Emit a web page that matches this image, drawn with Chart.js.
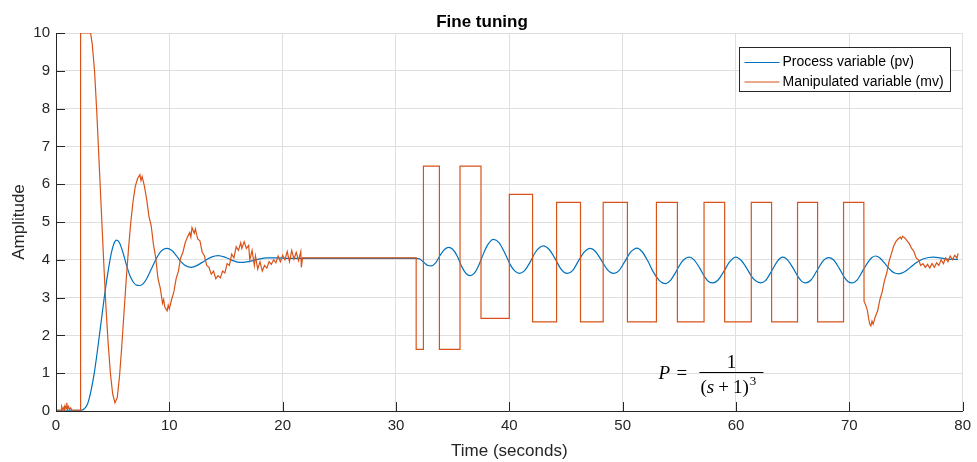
<!DOCTYPE html>
<html>
<head>
<meta charset="utf-8">
<title>Fine tuning</title>
<script src="https://cdn.jsdelivr.net/npm/chart.js@4/dist/chart.umd.min.js"></script>
<style>
  html, body { margin: 0; padding: 0; background: #fff; }
  canvas { display: block; }
</style>
</head>
<body>
<canvas id="myChart" width="977" height="462"></canvas>
<script>
// process variable (pv)
const pvTime = [0, 2.2, 2.5, 2.8, 3.1, 3.4, 3.7, 4.0, 4.3, 4.6, 4.9, 5.1, 5.35, 5.6, 5.9, 6.2, 6.5, 6.8, 7.1, 7.4,
  7.7, 8.0, 8.4, 8.8, 9.2, 9.5, 9.8, 10.2, 10.6, 11.0, 11.4, 11.95, 12.5, 13.1, 13.7, 14.3, 14.9, 15.5, 16.0, 16.5,
  17.1, 17.8, 18.6, 19.5, 20.5, 25, 31.8, 32.1, 32.5, 32.8, 33.1, 33.5, 33.9, 34.3, 34.65, 35.0, 35.4, 35.8, 36.2, 36.53,
  36.9, 37.3, 37.7, 38.1, 38.6, 39.1, 39.6, 40.1, 40.5, 40.88, 41.3, 41.8, 42.3, 42.7, 43.0, 43.5, 44.0, 44.5, 44.8, 45.14,
  45.6, 46.1, 46.6, 46.9, 47.14, 47.6, 48.1, 48.6, 48.9, 49.25, 49.7, 50.2, 50.7, 51.0, 51.25, 51.7, 52.2, 52.7, 53.2, 53.5,
  53.8, 54.2, 54.7, 55.2, 55.5, 55.86, 56.3, 56.8, 57.3, 57.6, 57.97, 58.4, 58.9, 59.4, 59.7, 59.97, 60.4, 60.9, 61.4, 61.8,
  62.17, 62.6, 63.1, 63.6, 63.9, 64.14, 64.5, 65.0, 65.5, 65.8, 66.14, 66.6, 67.1, 67.6, 67.9, 68.2, 68.6, 69.1, 69.6, 69.9,
  70.25, 70.7, 71.2, 71.7, 72.0, 72.3, 72.7, 73.2, 73.7, 74.0, 74.36, 74.8, 75.3, 75.9, 76.5, 77.0, 77.4, 78.0, 78.6, 79.2, 79.6];
const pvValue = [0.02, 0.02, 0.06, 0.2, 0.55, 1.05, 1.7, 2.4, 3.1, 3.7, 4.2, 4.42, 4.52, 4.45, 4.2, 3.88, 3.6, 3.42, 3.33, 3.32,
  3.37, 3.5, 3.75, 4.0, 4.2, 4.28, 4.3, 4.25, 4.12, 3.96, 3.85, 3.8, 3.86, 3.97, 4.07, 4.11, 4.07, 3.99, 3.94, 3.93,
  3.96, 4.01, 4.05, 4.05, 4.04, 4.04, 4.04, 4.02, 3.92, 3.85, 3.84, 3.92, 4.12, 4.28, 4.33, 4.28, 4.1, 3.82, 3.63, 3.58,
  3.64, 3.85, 4.15, 4.4, 4.54, 4.45, 4.18, 3.86, 3.7, 3.64, 3.7, 3.92, 4.2, 4.33, 4.37, 4.28, 4.05, 3.78, 3.68, 3.64,
  3.72, 3.97, 4.2, 4.28, 4.3, 4.22, 4.0, 3.76, 3.67, 3.64, 3.72, 3.96, 4.2, 4.28, 4.31, 4.22, 3.98, 3.68, 3.46, 3.39,
  3.37, 3.45, 3.68, 3.94, 4.03, 4.07, 4.0, 3.78, 3.52, 3.42, 3.39, 3.46, 3.68, 3.93, 4.03, 4.07, 4.0, 3.8, 3.55, 3.43,
  3.39, 3.45, 3.68, 3.94, 4.04, 4.07, 4.01, 3.8, 3.54, 3.43, 3.39, 3.46, 3.69, 3.94, 4.03, 4.06, 4.0, 3.78, 3.52, 3.42,
  3.39, 3.47, 3.72, 3.96, 4.06, 4.1, 4.05, 3.88, 3.71, 3.65, 3.63, 3.67, 3.78, 3.92, 4.02, 4.06, 4.07, 4.05, 4.02, 4.01, 4.01];

// manipulated variable (mv)
const mvTime = [0, 0.45, 0.5, 0.6, 0.7, 0.75, 0.8, 0.9, 0.95, 1.02, 1.1, 1.2, 1.3, 1.4, 2.17, 2.17, 3.05, 3.2, 3.4, 3.6,
  3.8, 4.0, 4.2, 4.4, 4.6, 4.8, 5.0, 5.2, 5.4, 5.6, 5.8, 6.0, 6.2, 6.4, 6.6, 6.8, 7.0, 7.2, 7.4, 7.5,
  7.6, 7.8, 8.0, 8.2, 8.4, 8.6, 8.8, 9.0, 9.2, 9.4, 9.5, 9.6, 9.8, 9.9, 10.0, 10.2, 10.4, 10.6, 10.8, 11.0,
  11.2, 11.4, 11.6, 11.8, 11.9, 12.0, 12.2, 12.3, 12.5, 12.7, 12.9, 13.1, 13.3, 13.5, 13.7, 13.9, 14.1, 14.3, 14.5, 14.7,
  14.9, 15.1, 15.3, 15.5, 15.7, 15.9, 16.1, 16.3, 16.4, 16.6, 16.8, 17.0, 17.1, 17.3, 17.5, 17.6, 17.8, 18.0, 18.2, 18.4,
  18.6, 18.8, 19.0, 19.2, 19.4, 19.6, 19.8, 20.0, 20.2, 20.4, 20.6, 20.8, 21.0, 21.2, 21.4, 21.6, 21.65, 21.75, 31.78, 31.78,
  32.42, 32.42, 33.83, 33.83, 35.65, 35.65, 37.5, 37.5, 40.0, 40.0, 42.05, 42.05, 44.17, 44.17, 46.28, 46.28, 48.28, 48.28, 50.42, 50.42,
  52.98, 52.98, 54.83, 54.83, 57.18, 57.18, 59.0, 59.0, 61.35, 61.35, 63.14, 63.14, 65.43, 65.43, 67.2, 67.2, 69.49, 69.49, 71.28, 71.3,
  71.45, 71.6, 71.7, 71.8, 71.9, 72.0, 72.1, 72.3, 72.5, 72.7, 72.9, 73.1, 73.3, 73.5, 73.7, 73.9, 74.1, 74.3, 74.5, 74.6,
  74.7, 74.9, 75.1, 75.3, 75.5, 75.7, 75.9, 76.1, 76.3, 76.5, 76.7, 76.9, 77.1, 77.3, 77.5, 77.7, 77.9, 78.1, 78.3, 78.5,
  78.7, 78.9, 79.1, 79.3, 79.5, 79.6];
const mvValue = [0.02, 0.02, 0.12, 0.04, 0.1, 0.03, 0.14, 0.06, 0.22, 0.05, 0.12, 0.04, 0.08, 0.02, 0.02, 10, 10, 9.7, 9.0, 7.9,
  6.6, 5.3, 4.0, 2.8, 1.8, 1.0, 0.45, 0.22, 0.35, 0.9, 1.7, 2.6, 3.5, 4.3, 5.0, 5.55, 5.95, 6.15, 6.25, 6.1,
  6.2, 5.95, 5.6, 5.15, 4.9, 4.4, 4.05, 3.5, 3.25, 2.85, 2.95, 2.75, 2.65, 2.8, 2.7, 2.95, 3.15, 3.5, 3.7, 4.05,
  4.2, 4.45, 4.6, 4.72, 4.6, 4.85, 4.7, 4.82, 4.55, 4.5, 4.2, 4.1, 3.85, 3.8, 3.62, 3.7, 3.5, 3.58, 3.52, 3.7,
  3.65, 3.9, 3.85, 4.15, 4.05, 4.35, 4.25, 4.45, 4.3, 4.48, 4.3, 4.38, 4.0, 4.25, 3.85, 4.1, 3.75, 3.95, 3.7, 3.85,
  3.78, 3.95, 3.88, 4.0, 3.92, 4.1, 3.95, 4.12, 4.0, 4.22, 3.95, 4.25, 4.02, 4.2, 3.98, 4.22, 3.8, 4.05, 4.05, 1.63,
  1.63, 6.48, 6.48, 1.63, 1.63, 6.48, 6.48, 2.45, 2.45, 5.73, 5.73, 2.36, 2.36, 5.52, 5.52, 2.36, 2.36, 5.52, 5.52, 2.36,
  2.36, 5.52, 5.52, 2.36, 2.36, 5.52, 5.52, 2.36, 2.36, 5.52, 5.52, 2.36, 2.36, 5.52, 5.52, 2.36, 2.36, 5.52, 5.52, 2.9,
  2.8, 2.65, 2.45, 2.3, 2.25, 2.38, 2.3, 2.5, 2.65, 2.95, 3.15, 3.45, 3.65, 3.95, 4.15, 4.35, 4.48, 4.55, 4.6, 4.55,
  4.62, 4.58, 4.5, 4.42, 4.3, 4.22, 4.05, 4.0, 3.85, 3.9, 3.8, 3.88, 3.78, 3.9, 3.8, 3.92, 3.85, 4.0, 3.9, 4.05,
  3.95, 4.1, 4.0, 4.12, 4.05, 4.17];

const xTicks = [0, 10, 20, 30, 40, 50, 60, 70, 80];
const yTicks = [0, 1, 2, 3, 4, 5, 6, 7, 8, 9, 10];

const axisColor = '#262626';
const gridColor = '#dfdfdf';
const font = 'Liberation Sans, Arial, Helvetica, sans-serif';

function toPoints(ts, vs) {
  return ts.map(function(t, i) { return {x: t, y: vs[i]}; });
}

// ticks pointing into the plot, legend box and the transfer function
const decorations = {
  id: 'decorations',
  afterDatasetsDraw(chart) {
    const ctx = chart.ctx;
    const area = chart.chartArea;
    const xs = chart.scales.x, ys = chart.scales.y;
    ctx.save();
    ctx.strokeStyle = axisColor;
    ctx.lineWidth = 1;
    ctx.beginPath();
    xTicks.forEach(function(v) {
      const px = Math.round(xs.getPixelForValue(v)) + 0.5;
      ctx.moveTo(px, area.bottom);
      ctx.lineTo(px, area.bottom - 9);
    });
    yTicks.forEach(function(v) {
      const py = Math.round(ys.getPixelForValue(v)) + 0.5;
      ctx.moveTo(area.left, py);
      ctx.lineTo(area.left + 9, py);
    });
    ctx.stroke();

    // legend
    const bx = 739.5, by = 47.5, bw = 211, bh = 44;
    ctx.fillStyle = '#fff';
    ctx.fillRect(bx, by, bw, bh);
    ctx.strokeStyle = axisColor;
    ctx.strokeRect(bx, by, bw, bh);
    ctx.font = '14px ' + font;
    ctx.textBaseline = 'middle';
    chart.data.datasets.forEach(function(ds, i) {
      const ly = by + 15 + i * 19.5;
      ctx.strokeStyle = ds.borderColor;
      ctx.lineWidth = 1.2;
      ctx.beginPath();
      ctx.moveTo(bx + 5, ly);
      ctx.lineTo(bx + 40, ly);
      ctx.stroke();
      ctx.fillStyle = '#000';
      ctx.fillText(ds.label, bx + 43, ly);
    });

    // P = 1 / (s+1)^3
    const cx = xs.getPixelForValue(59.6);
    const cy = Math.round(ys.getPixelForValue(1.04)) + 0.5;
    ctx.fillStyle = '#000';
    ctx.strokeStyle = '#000';
    ctx.lineWidth = 1;
    ctx.beginPath();
    ctx.moveTo(cx - 32, cy);
    ctx.lineTo(cx + 32, cy);
    ctx.stroke();
    ctx.textBaseline = 'alphabetic';
    ctx.textAlign = 'left';
    ctx.font = 'italic 19px Liberation Serif, serif';
    ctx.fillText('P', cx - 73, cy + 6);
    ctx.font = '19px Liberation Serif, serif';
    ctx.fillText('=', cx - 55, cy + 6);
    ctx.textAlign = 'center';
    ctx.fillText('1', cx, cy - 5);
    ctx.textAlign = 'left';
    const dy = cy + 20;
    let dx = cx - 31;
    ctx.fillText('(', dx, dy); dx += ctx.measureText('(').width;
    ctx.font = 'italic 19px Liberation Serif, serif';
    ctx.fillText('s', dx, dy); dx += ctx.measureText('s').width + 4;
    ctx.font = '19px Liberation Serif, serif';
    ctx.fillText('+', dx, dy); dx += ctx.measureText('+').width + 4;
    ctx.fillText('1)', dx, dy); dx += ctx.measureText('1)').width;
    ctx.font = '13px Liberation Serif, serif';
    ctx.fillText('3', dx + 1, dy - 8);
    ctx.restore();
  }
};

const myChart = new Chart(document.getElementById('myChart').getContext('2d'), {
  type: 'line',
  data: {
    datasets: [
      {
        label: 'Process variable (pv)',
        data: toPoints(pvTime, pvValue),
        borderColor: '#0072BD',
        borderWidth: 1.2,
        pointRadius: 0,
        cubicInterpolationMode: 'monotone',
        order: 1
      },
      {
        // drawn over pv
        label: 'Manipulated variable (mv)',
        data: toPoints(mvTime, mvValue),
        borderColor: '#D95319',
        borderWidth: 1.2,
        pointRadius: 0,
        tension: 0,
        order: 0
      }
    ]
  },
  options: {
    responsive: false,
    animation: false,
    events: [],
    layout: { padding: { left: 0, right: 13, top: 0, bottom: 0 } },
    plugins: {
      legend: { display: false },
      tooltip: { enabled: false },
      title: {
        display: true,
        text: 'Fine tuning',
        color: '#000',
        font: { family: font, size: 17, weight: 'bold' },
        padding: { top: 12, bottom: 0.6 }
      }
    },
    scales: {
      x: {
        type: 'linear',
        min: 0, max: 80,
        afterFit: function(s) { s.height = 51; },
        afterBuildTicks: function(s) { s.ticks = xTicks.map(function(v) { return {value: v}; }); },
        grid: { color: gridColor, drawTicks: false },
        border: { color: axisColor, width: 1 },
        ticks: { color: axisColor, padding: 6, maxRotation: 0, font: { family: font, size: 15 } },
        title: { display: true, text: 'Time (seconds)', color: axisColor, font: { family: font, size: 17 }, padding: { top: 0, bottom: 0 } }
      },
      y: {
        type: 'linear',
        min: 0, max: 10,
        afterFit: function(s) { s.width = 56; },
        afterBuildTicks: function(s) { s.ticks = yTicks.map(function(v) { return {value: v}; }); },
        grid: { color: gridColor, drawTicks: false },
        border: { color: axisColor, width: 1 },
        ticks: { color: axisColor, padding: 6, font: { family: font, size: 15 } },
        title: { display: true, text: 'Amplitude', color: axisColor, font: { family: font, size: 17 }, padding: { top: 9, bottom: 0 } }
      }
    }
  },
  plugins: [decorations]
});
</script>
</body>
</html>
